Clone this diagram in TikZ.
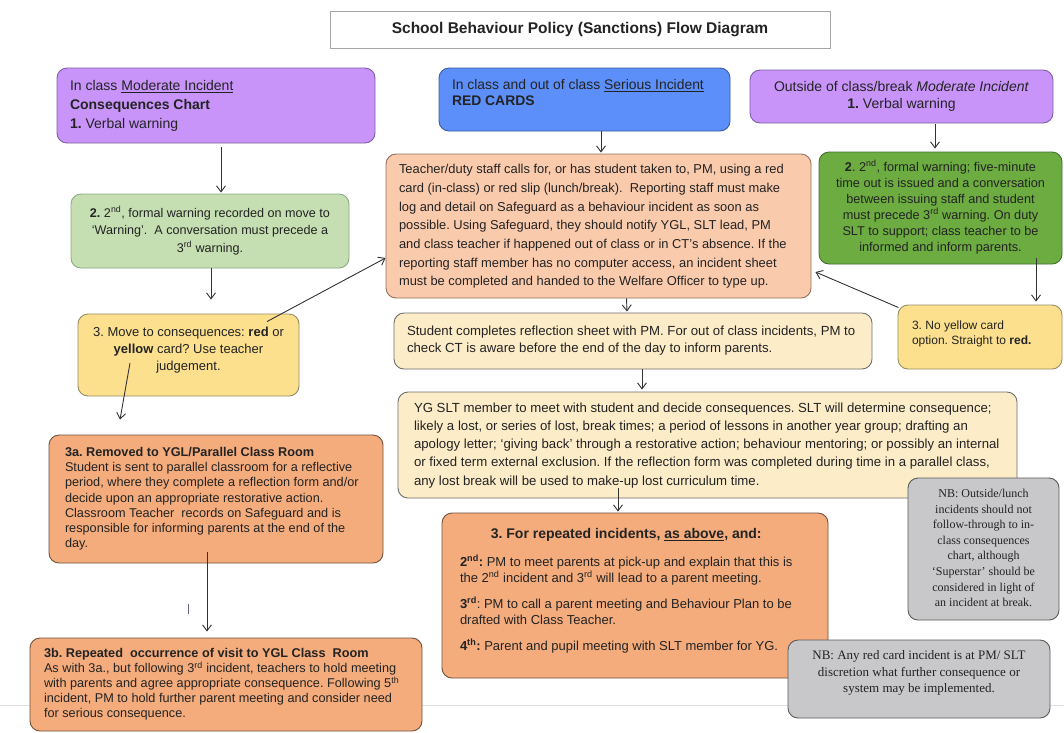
\documentclass[tikz,border=0pt]{standalone}
\usepackage{fontspec}
\setmainfont{Liberation Sans}
\newfontfamily\nbserif{Liberation Serif}
\usetikzlibrary{arrows.meta,calc}
\newcommand\myfs[2]{\fontsize{#1}{#2}\selectfont}
% left-aligned block: total width, left pad, lines
\newcommand\txtL[3]{\makebox[#1][l]{\hspace*{#2}\begin{tabular}{@{}l@{}}#3\end{tabular}}}
% centred block: total width, lines
\newcommand\txtC[2]{\makebox[#1][c]{\begin{tabular}{@{}c@{}}#2\end{tabular}}}
\definecolor{purp}{RGB}{200,148,250}
\definecolor{purpB}{RGB}{125,95,165}
\definecolor{blu}{RGB}{92,143,250}
\definecolor{bluB}{RGB}{60,90,160}
\definecolor{peach}{RGB}{250,202,172}
\definecolor{peachB}{RGB}{150,112,92}
\definecolor{lgreen}{RGB}{197,222,178}
\definecolor{lgreenB}{RGB}{140,170,130}
\definecolor{dgreen}{RGB}{108,172,64}
\definecolor{dgreenB}{RGB}{70,110,50}
\definecolor{yel}{RGB}{252,224,142}
\definecolor{yelB}{RGB}{150,140,100}
\definecolor{cream}{RGB}{253,236,200}
\definecolor{creamB}{RGB}{110,110,105}
\definecolor{orng}{RGB}{244,172,124}
\definecolor{orngB}{RGB}{110,82,62}
\definecolor{gry}{RGB}{200,200,202}
\definecolor{gryB}{RGB}{90,90,90}
\definecolor{txt}{RGB}{35,35,35}
\begin{document}
\frenchspacing
\begin{tikzpicture}[x=1pt,y=-1pt,
  box/.style={draw, rounded corners=10pt, line width=0.9pt, inner sep=0pt, text=txt},
  arr/.style={-{Straight Barb[length=6pt,width=9pt]}, line width=0.9pt, draw=black!80}]
\useasboundingbox (0,0) rectangle (1064,732);
\fill[white] (0,0) rectangle (1064,732);
\draw[gray!25, line width=1pt] (0,705.5) -- (1064,705.5);
\draw[black!25!blue!20!gray, line width=0.8pt] (188,604) -- (188,614);

% title
\node[draw=gray!70, line width=1pt, minimum width=500pt, minimum height=37pt, inner sep=0pt,
  font=\bfseries\myfs{15.5}{17}, text=txt] (T) at (580,30) {School Behaviour Policy (Sanctions) Flow Diagram};

% top row
\node[box, fill=purp, draw=purpB, minimum width=318pt, minimum height=75pt, font=\myfs{14}{19}] (A) at (216,105.5)
  {\txtL{318pt}{13pt}{In class \underline{Moderate Incident}\\ \textbf{Consequences Chart}\\ \textbf{1.} Verbal warning}};
\node[box, fill=blu, draw=bluB, minimum width=291pt, minimum height=63pt, font=\myfs{13.9}{16}] (B) at (584.5,99.5)
  {\txtL{291pt}{13pt}{In class and out of class \underline{Serious Incident}\\ \textbf{RED CARDS}\\[10pt]}};
\node[box, fill=purp, draw=purpB, minimum width=303pt, minimum height=53pt, font=\myfs{14}{17}] (C) at (901.5,96.5)
  {\txtC{303pt}{Outside of class/break \textit{Moderate Incident}\\ \textbf{1.} Verbal warning}};

% red card box
\node[box, fill=peach, draw=peachB, minimum width=425pt, minimum height=144pt, font=\myfs{12.9}{18.7}] (D) at (598.5,226)
  {\txtL{425pt}{13pt}{Teacher/duty staff calls for, or has student taken to, PM, using a red\\
   card (in-class) or red slip (lunch/break).\ \ Reporting staff must make\\
   log and detail on Safeguard as a behaviour incident as soon as\\
   possible. Using Safeguard, they should notify YGL, SLT lead, PM\\
   and class teacher if happened out of class or in CT’s absence. If the\\
   reporting staff member has no computer access, an incident sheet\\
   must be completed and handed to the Welfare Officer to type up.}};

\node[box, fill=lgreen, draw=lgreenB, minimum width=278pt, minimum height=74pt, font=\myfs{12.6}{17.5}] (E) at (210,231)
  {\txtC{278pt}{\textbf{2.} 2\textsuperscript{nd}, formal warning recorded on move to\\
   ‘Warning’.\ \ A conversation must precede a\\ 3\textsuperscript{rd} warning.}};

\node[box, fill=dgreen, draw=dgreenB, minimum width=243pt, minimum height=112pt, font=\myfs{12.7}{16}] (F) at (940.5,208)
  {\txtC{243pt}{\textbf{2}. 2\textsuperscript{nd}, formal warning; five-minute\\
   time out is issued and a conversation\\
   between issuing staff and student\\
   must precede 3\textsuperscript{rd} warning. On duty\\
   SLT to support; class teacher to be\\
   informed and inform parents.}};

\node[box, fill=yel, draw=yelB, minimum width=221pt, minimum height=82pt, font=\myfs{13}{17}] (G) at (188.5,355)
  {\txtC{221pt}{3. Move to consequences: \textbf{red} or\\ \textbf{yellow} card? Use teacher\\ judgement.\\[9pt]}};

\node[box, fill=yel, draw=yelB, minimum width=164pt, minimum height=64pt, font=\myfs{12}{15.5}] (H) at (980,337)
  {\txtL{164pt}{14pt}{3. No yellow card\\ option. Straight to \textbf{red.}\\[6pt]}};

\node[box, fill=cream, draw=creamB, minimum width=478pt, minimum height=56pt, font=\myfs{13.2}{17}] (I) at (633,341)
  {\txtL{478pt}{13pt}{Student completes reflection sheet with PM. For out of class incidents, PM to\\
   check CT is aware before the end of the day to inform parents.}};

\node[box, fill=cream, draw=creamB, minimum width=619pt, minimum height=106pt, font=\myfs{13.2}{18.3}] (J) at (707.5,445)
  {\txtL{619pt}{16pt}{YG SLT member to meet with student and decide consequences. SLT will determine consequence;\\
   likely a lost, or series of lost, break times; a period of lessons in another year group; drafting an\\
   apology letter; ‘giving back’ through a restorative action; behaviour mentoring; or possibly an internal\\
   or fixed term external exclusion. If the reflection form was completed during time in a parallel class,\\
   any lost break will be used to make-up lost curriculum time.}};

\node[box, fill=gry, draw=gryB, minimum width=151pt, minimum height=142pt, font=\nbserif\myfs{12}{15.6}] (L) at (983.5,549)
  {\txtC{151pt}{NB: Outside/lunch\\ incidents should not\\ follow-through to in-\\ class consequences\\
   chart, although\\ ‘Superstar’ should be\\ considered in light of\\ an incident at break.}};

\node[box, fill=orng, draw=orngB, minimum width=334pt, minimum height=128pt, font=\myfs{12.7}{15.3}] (K) at (216,499)
  {\txtL{334pt}{16pt}{\textbf{3a. Removed to YGL/Parallel Class Room}\\
   Student is sent to parallel classroom for a reflective\\
   period, where they complete a reflection form and/or\\
   decide upon an appropriate restorative action.\\
   Classroom Teacher\ \ records on Safeguard and is\\
   responsible for informing parents at the end of the\\
   day.}};

\node[box, fill=orng, draw=orngB, minimum width=386pt, minimum height=165pt, font=\myfs{13}{16}] (M) at (635,595.5)
  {\txtL{386pt}{18pt}{\multicolumn{1}{@{}c@{}}{\bfseries\fontsize{14}{16}\selectfont 3. For repeated incidents, \underline{as above}, and:}\\[12pt]
   \textbf{2\textsuperscript{nd}:} PM to meet parents at pick-up and explain that this is\\
   the 2\textsuperscript{nd} incident and 3\textsuperscript{rd} will lead to a parent meeting.\\[10pt]
   \textbf{3\textsuperscript{rd}}: PM to call a parent meeting and Behaviour Plan to be\\
   drafted with Class Teacher.\\[10pt]
   \textbf{4\textsuperscript{th}:} Parent and pupil meeting with SLT member for YG.\\[9pt]}};

\node[box, fill=gry, draw=gryB, minimum width=262pt, minimum height=78pt, font=\nbserif\myfs{13}{16.5}] (N) at (919,679)
  {\txtC{262pt}{NB: Any red card incident is at PM/ SLT\\ discretion what further consequence or\\ system may be implemented.\\[12pt]}};

\node[box, fill=orng, draw=orngB, minimum width=392pt, minimum height=93pt, font=\myfs{12.7}{15}] (O) at (226,684.5)
  {\txtL{392pt}{14pt}{\textbf{3b. Repeated\ \ occurrence of visit to YGL Class\ \ Room}\\
   As with 3a., but following 3\textsuperscript{rd} incident, teachers to hold meeting\\
   with parents and agree appropriate consequence. Following 5\textsuperscript{th}\\
   incident, PM to hold further parent meeting and consider need\\
   for serious consequence.}};

% connectors
\draw[arr] ([xshift=5pt,yshift=-4pt]A.south) -- ([xshift=11pt,yshift=1pt]E.north);
\draw[arr] ([xshift=1pt]E.south) -- ([xshift=22.5pt,yshift=14pt]G.north);
\draw[arr] ([xshift=78.5pt,yshift=-8pt]G.north) -- ([yshift=-32pt]D.west);
\draw[arr] ([xshift=16.5pt]B.south) -- ([xshift=2.5pt,yshift=1pt]D.north);
\draw[arr] ([xshift=33.5pt,yshift=-1pt]C.south) -- ([xshift=-5.5pt,yshift=3pt]F.north);
\draw[arr] ([xshift=95.5pt,yshift=6pt]F.south) -- ([xshift=56pt,yshift=3pt]H.north);
\draw[arr] ([xshift=1pt,yshift=-3pt]H.north west) -- ([xshift=4pt,yshift=-46pt]D.east);
\draw[arr] ([xshift=28pt]D.south) -- ([xshift=-6pt,yshift=1pt]I.north);
\draw[arr] ([xshift=9pt]I.south) -- ([xshift=-65.5pt,yshift=2pt]J.north);
\draw[arr] ([xshift=-89.5pt,yshift=10pt]J.south) -- ([xshift=-17pt,yshift=1pt]M.north);
\draw[arr] ([xshift=-58.5pt,yshift=-8pt]G.center) -- ([xshift=-96pt,yshift=15pt]K.north);
\draw[arr] ([xshift=-9pt,yshift=11pt]K.south) -- ([xshift=-19pt,yshift=6pt]O.north);
\end{tikzpicture}
\end{document}
